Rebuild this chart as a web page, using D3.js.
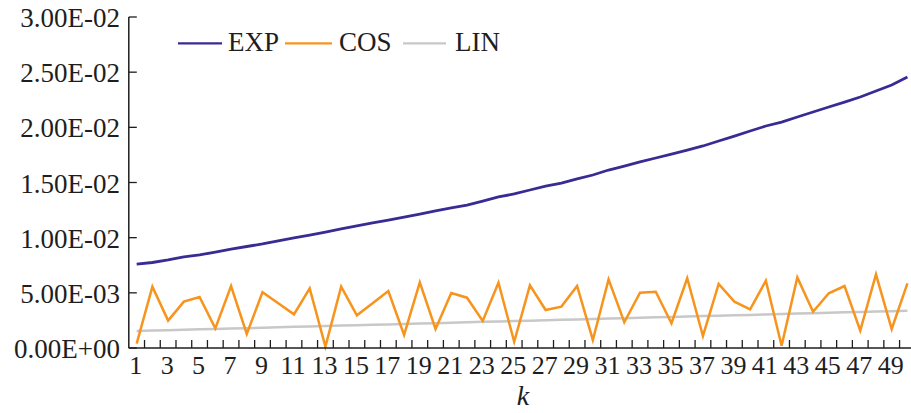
<!DOCTYPE html>
<html>
<head>
<meta charset="utf-8">
<script src="https://cdn.jsdelivr.net/npm/d3@7/dist/d3.min.js"></script>
</head>
<body style="margin:0">
<svg id="chart" width="911" height="413"></svg>
<script>
const categories = d3.range(1, 51);
const seriesNames = ["EXP", "COS", "LIN"];
const expValues = [0.00761,0.00775,0.00798,0.00825,0.00843,0.00870,0.00897,0.00920,0.00943,0.00970,
  0.00997,0.01024,0.01051,0.01079,0.01106,0.01133,0.01160,0.01187,0.01214,0.01242,
  0.01269,0.01296,0.01332,0.01369,0.01396,0.01432,0.01468,0.01495,0.01532,0.01568,
  0.01613,0.01649,0.01686,0.01722,0.01758,0.01794,0.01831,0.01876,0.01921,0.01967,
  0.02012,0.02048,0.02094,0.02139,0.02184,0.02229,0.02275,0.02329,0.02384,0.02456];
const cosValues = [0.00040,0.00556,0.00248,0.00420,0.00462,0.00178,0.00562,0.00127,0.00505,0.00405,
  0.00305,0.00541,0.00012,0.00556,0.00296,0.00405,0.00517,0.00118,0.00595,0.00172,
  0.00498,0.00456,0.00245,0.00592,0.00057,0.00568,0.00344,0.00375,0.00562,0.00073,
  0.00622,0.00233,0.00501,0.00510,0.00224,0.00632,0.00109,0.00580,0.00420,0.00350,
  0.00610,0.00021,0.00640,0.00329,0.00496,0.00562,0.00157,0.00668,0.00172,0.00586];
const linValues = [0.00154,0.00158,0.00162,0.00165,0.00169,0.00173,0.00177,0.00180,0.00184,0.00188,
  0.00192,0.00195,0.00199,0.00203,0.00207,0.00210,0.00214,0.00218,0.00222,0.00225,
  0.00229,0.00233,0.00237,0.00240,0.00244,0.00248,0.00252,0.00255,0.00259,0.00263,
  0.00267,0.00270,0.00274,0.00278,0.00282,0.00285,0.00289,0.00293,0.00297,0.00300,
  0.00304,0.00308,0.00312,0.00315,0.00319,0.00323,0.00327,0.00330,0.00334,0.00338];
const yTickValues = [0, 0.005, 0.01, 0.015, 0.02, 0.025, 0.03];
const yTickLabels = ["0.00E+00","5.00E-03","1.00E-02","1.50E-02","2.00E-02","2.50E-02","3.00E-02"];
const xTickLabels = categories.filter(k => k % 2 === 1).map(String);
const xAxisTitle = "k";

(function () {
const colors = { EXP: "#382b94", COS: "#f7941d", LIN: "#c8c8c8" };
const seriesData = { EXP: expValues, COS: cosValues, LIN: linValues };
const textColor = "#1e1e1e";

const svg = d3.select("#chart").attr("font-family", "Liberation Serif");
const pLeft = 128.8, pRight = 915.3, pTop = 17, pBottom = 348;

const x = d3.scaleBand().domain(categories).range([pLeft, pRight]).padding(0);
const y = d3.scaleLinear().domain([0, 0.03]).range([pBottom, pTop]);
const cx = k => x(k) + x.bandwidth() / 2;

const line = d3.line().x((d, i) => cx(categories[i])).y(d => y(d));
["LIN", "COS", "EXP"].forEach(name => {
  svg.append("path")
    .datum(seriesData[name])
    .attr("d", line)
    .attr("fill", "none")
    .attr("stroke", colors[name])
    .attr("stroke-width", name === "EXP" ? 2.8 : 2.5)
    .attr("stroke-linejoin", "miter");
});

const axisColor = "#1e1e1e";
svg.append("line").attr("x1", pLeft).attr("x2", pLeft).attr("y1", pTop).attr("y2", pBottom)
  .attr("stroke", axisColor).attr("stroke-width", 1.5);
svg.append("line").attr("x1", pLeft).attr("x2", pRight).attr("y1", pBottom).attr("y2", pBottom)
  .attr("stroke", axisColor).attr("stroke-width", 1.5);

function addText(xp, yp, str, size, anchor, italic) {
  const t = svg.append("text").attr("x", xp).attr("y", yp)
    .attr("font-family", "Liberation Serif")
    .attr("font-size", size)
    .attr("text-anchor", anchor)
    .attr("fill", textColor)
    .text(str);
  if (italic) t.attr("font-style", "italic");
  return t;
}

yTickValues.forEach((v, i) => {
  svg.append("line").attr("x1", pLeft).attr("x2", pLeft + 8)
    .attr("y1", y(v)).attr("y2", y(v))
    .attr("stroke", axisColor).attr("stroke-width", 1.3);
  addText(120, y(v) + 10, yTickLabels[i], 27, "end", false);
});

categories.slice(1).forEach(k => {
  svg.append("line").attr("x1", x(k)).attr("x2", x(k))
    .attr("y1", pBottom).attr("y2", pBottom - 8)
    .attr("stroke", axisColor).attr("stroke-width", 1.3);
});
xTickLabels.forEach(lbl => {
  addText(cx(+lbl) - 1, 374, lbl, 26, "middle", false);
});

addText(523, 405, xAxisTitle, 28, "middle", true);

const legendItems = [
  { name: "EXP", x1: 178, x2: 222, tx: 228 },
  { name: "COS", x1: 285, x2: 332, tx: 339 },
  { name: "LIN", x1: 403, x2: 446, tx: 455 }
];
legendItems.forEach(it => {
  svg.append("line").attr("x1", it.x1).attr("x2", it.x2).attr("y1", 43.3).attr("y2", 43.3)
    .attr("stroke", colors[it.name]).attr("stroke-width", 2.2);
  addText(it.tx, 50.5, it.name, 27, "start", false);
});
})();
</script>
</body>
</html>
